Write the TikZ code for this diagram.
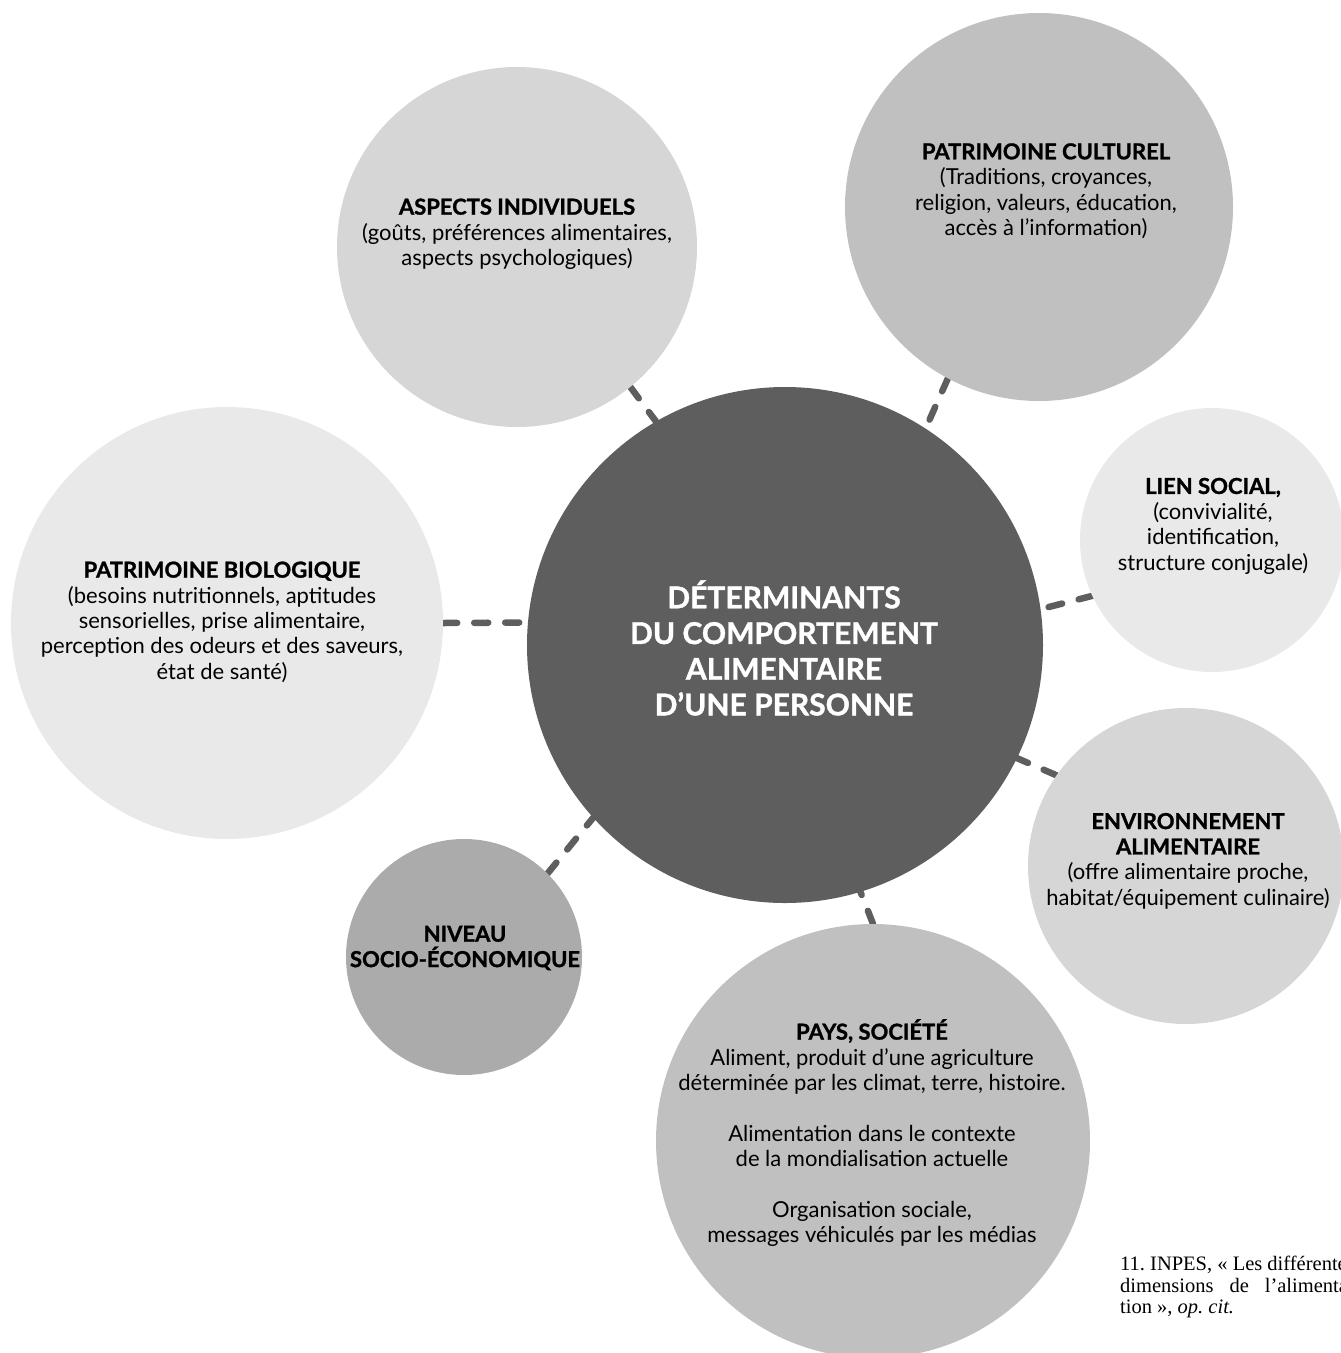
\documentclass[tikz,border=0pt]{standalone}
\usepackage{fontspec}
\setmainfont{Lato}[BoldFeatures={FakeBold=1.2}]
\newfontfamily\notefont{Liberation Serif}
\usetikzlibrary{backgrounds}
\definecolor{cdark}{HTML}{5E5E5E}
\definecolor{cpale}{HTML}{E9E9E9}
\definecolor{clight}{HTML}{D6D6D6}
\definecolor{cmid}{HTML}{C0C0C0}
\definecolor{cdeep}{HTML}{ABABAB}
\definecolor{cdash}{HTML}{5E5E5E}
\newlength\fnw
\begin{document}
\settowidth\fnw{\notefont\fontsize{20.5}{21.5}\selectfont 11.\ INPES, «~Les différentes}
\begin{tikzpicture}[x=1pt,y=-1pt,
  disc/.style={circle,inner sep=0pt,draw=none},
  body/.style={align=center,text=black,inner sep=0pt,font=\fontsize{22}{25.4}\selectfont},
  title/.style={align=center,text=white,inner sep=0pt,font=\bfseries\fontsize{30}{35.7}\selectfont},
  conn/.style={draw=cdash,line width=6.5pt,line cap=round,dash pattern=on 14pt off 17pt}]
\useasboundingbox (0,0) rectangle (1341,1353);
\clip (0,0) rectangle (1341,1353);
% circles
\node[disc,fill=clight,minimum size=360pt] (asp) at (517,247) {};
\node[disc,fill=cmid,minimum size=388pt] (cul) at (1039,207) {};
\node[disc,fill=cpale,minimum size=264pt] (lien) at (1212,540) {};
\node[disc,fill=cpale,minimum size=432pt] (bio) at (227,623) {};
\node[disc,fill=clight,minimum size=316pt] (env) at (1186,866) {};
\node[disc,fill=cdeep,minimum size=236pt] (niv) at (464,957) {};
\node[disc,fill=cmid,minimum size=434pt] (pays) at (873,1141) {};
\node[disc,fill=cdark,minimum size=516pt] (ctr) at (785,645) {};
% connectors
\begin{scope}[on background layer]
\draw[conn] (asp.-51.6) -- (ctr.120.6);
\draw[conn] (cul.-118.4) -- (ctr.57.9);
\draw[conn] (lien.205.2) -- (ctr.8.5);
\draw[conn] (env.145.1) -- (ctr.-26.6);
\draw[conn] (pays.90.8) -- (ctr.-73.4);
\draw[conn] (niv.45.4) -- (ctr.222.7);
\draw[conn] (bio.-0.5) -- (ctr.175.6);
\end{scope}
% texts
\node[body] (asp-t) at (517,234) {\textbf{ASPECTS INDIVIDUELS}\\(goûts, préférences alimentaires,\\aspects psychologiques)};
\node[body] (cul-t) at (1046,191) {\textbf{PATRIMOINE CULTUREL}\\(Traditions, croyances,\\religion, valeurs, éducation,\\accès à l’information)};
\node[body] (lien-t) at (1213,526) {\textbf{LIEN SOCIAL,}\\(convivialité,\\identification,\\structure conjugale)};
\node[body] (bio-t) at (222,622) {\textbf{PATRIMOINE BIOLOGIQUE}\\(besoins nutritionnels, aptitudes\\sensorielles, prise alimentaire,\\perception des odeurs et des saveurs,\\état de santé)};
\node[body] (env-t) at (1188,861) {\textbf{ENVIRONNEMENT}\\\textbf{ALIMENTAIRE}\\(offre alimentaire proche,\\habitat/équipement culinaire)};
\node[body] (niv-t) at (465,948) {\textbf{NIVEAU}\\\textbf{SOCIO-ÉCONOMIQUE}};
\node[body] (pays-t) at (872,1133) {\textbf{PAYS, SOCIÉTÉ}\\Aliment, produit d’une agriculture\\déterminée par les climat, terre, histoire.\\[25.4pt]Alimentation dans le contexte\\de la mondialisation actuelle\\[25.4pt]Organisation sociale,\\messages véhiculés par les médias};
\node[title] (ctr-t) at (784,648) {DÉTERMINANTS\\DU COMPORTEMENT\\ALIMENTAIRE\\D’UNE PERSONNE};
% footnote (cut by the right edge, as in the reference)
\node[anchor=north west,inner sep=0pt,align=left,font=\notefont\fontsize{20.5}{21.5}\selectfont] (note) at (1120,1256) {11.\ INPES, «~Les différentes\\\makebox[\fnw][s]{dimensions de l’alimenta-}\\tion~», \textit{op.~cit.}};
\end{tikzpicture}
\end{document}
